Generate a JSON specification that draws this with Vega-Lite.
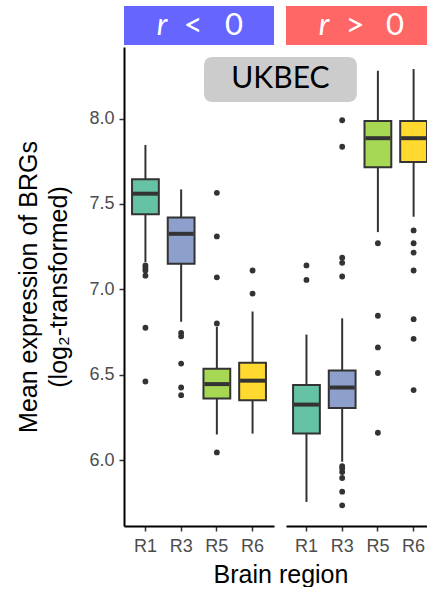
{
  "$schema": "https://vega.github.io/schema/vega-lite/v6.json",
  "autosize": {"type": "pad"},
  "padding": {"left": 16, "top": 6, "right": 0, "bottom": 0},
  "background": "white",
  "config": {
    "view": {"stroke": null},
    "font": "Liberation Sans",
    "axis": {
      "grid": false,
      "domainColor": "#000000",
      "domainWidth": 2,
      "tickColor": "#333333",
      "tickWidth": 1.5,
      "tickSize": 5,
      "labelFont": "Liberation Sans",
      "labelFontSize": 18,
      "labelColor": "#4D4D4D",
      "titleFont": "Liberation Sans",
      "titleFontSize": 25,
      "titleFontWeight": "normal",
      "titleColor": "#000000"
    }
  },
  "datasets": {
    "summary": [
      {"panel": "neg", "region": "R1", "lo": 7.16, "q1": 7.44, "med": 7.56, "q3": 7.645, "hi": 7.845},
      {"panel": "neg", "region": "R3", "lo": 6.81, "q1": 7.15, "med": 7.325, "q3": 7.42, "hi": 7.585},
      {"panel": "neg", "region": "R5", "lo": 6.15, "q1": 6.36, "med": 6.445, "q3": 6.535, "hi": 6.78},
      {"panel": "neg", "region": "R6", "lo": 6.155, "q1": 6.35, "med": 6.465, "q3": 6.57, "hi": 6.87},
      {"panel": "pos", "region": "R1", "lo": 5.755, "q1": 6.155, "med": 6.325, "q3": 6.44, "hi": 6.735},
      {"panel": "pos", "region": "R3", "lo": 5.99, "q1": 6.305, "med": 6.425, "q3": 6.525, "hi": 6.83},
      {"panel": "pos", "region": "R5", "lo": 7.335, "q1": 7.715, "med": 7.885, "q3": 7.985, "hi": 8.28},
      {"panel": "pos", "region": "R6", "lo": 7.425, "q1": 7.745, "med": 7.885, "q3": 7.985, "hi": 8.29}
    ],
    "outliers": [
      {"panel": "neg", "region": "R1", "value": 7.14},
      {"panel": "neg", "region": "R1", "value": 7.125},
      {"panel": "neg", "region": "R1", "value": 7.11},
      {"panel": "neg", "region": "R1", "value": 7.08},
      {"panel": "neg", "region": "R1", "value": 6.775},
      {"panel": "neg", "region": "R1", "value": 6.46},
      {"panel": "neg", "region": "R3", "value": 6.745},
      {"panel": "neg", "region": "R3", "value": 6.725},
      {"panel": "neg", "region": "R3", "value": 6.565},
      {"panel": "neg", "region": "R3", "value": 6.425},
      {"panel": "neg", "region": "R3", "value": 6.38},
      {"panel": "neg", "region": "R5", "value": 7.565},
      {"panel": "neg", "region": "R5", "value": 7.31},
      {"panel": "neg", "region": "R5", "value": 7.07},
      {"panel": "neg", "region": "R5", "value": 6.8},
      {"panel": "neg", "region": "R5", "value": 6.045},
      {"panel": "neg", "region": "R6", "value": 7.11},
      {"panel": "neg", "region": "R6", "value": 6.975},
      {"panel": "pos", "region": "R1", "value": 7.14},
      {"panel": "pos", "region": "R1", "value": 7.055},
      {"panel": "pos", "region": "R3", "value": 7.99},
      {"panel": "pos", "region": "R3", "value": 7.835},
      {"panel": "pos", "region": "R3", "value": 7.185},
      {"panel": "pos", "region": "R3", "value": 7.155},
      {"panel": "pos", "region": "R3", "value": 7.075},
      {"panel": "pos", "region": "R3", "value": 5.965},
      {"panel": "pos", "region": "R3", "value": 5.95},
      {"panel": "pos", "region": "R3", "value": 5.93},
      {"panel": "pos", "region": "R3", "value": 5.895},
      {"panel": "pos", "region": "R3", "value": 5.815},
      {"panel": "pos", "region": "R3", "value": 5.735},
      {"panel": "pos", "region": "R5", "value": 7.27},
      {"panel": "pos", "region": "R5", "value": 6.845},
      {"panel": "pos", "region": "R5", "value": 6.66},
      {"panel": "pos", "region": "R5", "value": 6.51},
      {"panel": "pos", "region": "R5", "value": 6.16},
      {"panel": "pos", "region": "R6", "value": 7.345},
      {"panel": "pos", "region": "R6", "value": 7.27},
      {"panel": "pos", "region": "R6", "value": 7.215},
      {"panel": "pos", "region": "R6", "value": 7.11},
      {"panel": "pos", "region": "R6", "value": 6.825},
      {"panel": "pos", "region": "R6", "value": 6.71},
      {"panel": "pos", "region": "R6", "value": 6.41}
    ],
    "note": [
      {"label": "UKBEC", "x1": 2.64, "x2": 6.92, "y1": 8.097, "y2": 8.361, "xm": 4.78, "ym": 8.229}
    ],
    "strip": [{"one": 1}]
  },
  "columns": 2,
  "spacing": {"row": 2, "column": 12},
  "bounds": "flush",
  "align": "each",
  "concat": [
    {
      "width": 150,
      "height": 39,
      "view": {"fill": "#6666FF", "stroke": null},
      "data": {"name": "strip"},
      "layer": [
        {"mark": {"type": "text", "text": "r", "font": "Lato", "fontSize": 31, "fontStyle": "italic", "color": "white", "align": "center", "dx": -37}},
        {"mark": {"type": "text", "text": "<", "font": "Lato", "fontSize": 33, "color": "white", "align": "center", "dx": -6}},
        {"mark": {"type": "text", "text": "0", "font": "Lato", "fontSize": 31, "color": "white", "align": "center", "dx": 35}}
      ]
    },
    {
      "width": 141,
      "height": 39,
      "view": {"fill": "#FF6666", "stroke": null},
      "data": {"name": "strip"},
      "layer": [
        {"mark": {"type": "text", "text": "r", "font": "Lato", "fontSize": 31, "fontStyle": "italic", "color": "white", "align": "center", "dx": -32.5}},
        {"mark": {"type": "text", "text": ">", "font": "Lato", "fontSize": 33, "color": "white", "align": "center", "dx": -1.5}},
        {"mark": {"type": "text", "text": "0", "font": "Lato", "fontSize": 31, "color": "white", "align": "center", "dx": 38.5}}
      ]
    },
    {
      "width": 150,
      "height": 479,
      "resolve": {"scale": {"x": "independent"}, "axis": {"x": "independent"}},
      "layer": [
        {
          "layer": [
            {
              "data": {"name": "summary"},
              "transform": [{"filter": "datum.panel === 'neg'"}],
              "mark": {"type": "rule", "color": "#333333", "strokeWidth": 2},
              "encoding": {
                "x": {"field": "region", "type": "nominal", "sort": ["R1", "R3", "R5", "R6"],
                      "scale": {"paddingInner": 0.25, "paddingOuter": 0.225},
                      "axis": {"title": "Brain region", "titleX": 156.5, "titlePadding": 7, "labelPadding": 6, "labelAngle": 0}},
                "y": {"field": "lo", "type": "quantitative", "scale": {"domain": [5.614, 8.419], "nice": false, "zero": false},
                      "axis": {"values": [6, 6.5, 7, 7.5, 8], "format": ".1f", "labelPadding": 5, "titlePadding": 17, "titleLineHeight": 30,
                               "title": ["Mean expression of BRGs", "(log₂-transformed)"]}},
                "y2": {"field": "hi"}
              }
            },
            {
              "data": {"name": "summary"},
              "transform": [{"filter": "datum.panel === 'neg'"}],
              "mark": {"type": "bar", "stroke": "#333333", "strokeWidth": 2},
              "encoding": {
                "x": {"field": "region", "type": "nominal", "sort": ["R1", "R3", "R5", "R6"]},
                "y": {"field": "q1", "type": "quantitative"},
                "y2": {"field": "q3"},
                "fill": {"field": "region", "type": "nominal", "legend": null,
                         "scale": {"domain": ["R1", "R3", "R5", "R6"], "range": ["#66C2A5", "#8DA0CB", "#A6D854", "#FFD92F"]}}
              }
            },
            {
              "data": {"name": "summary"},
              "transform": [{"filter": "datum.panel === 'neg'"}],
              "mark": {"type": "tick", "color": "#333333", "thickness": 4, "size": 25, "opacity": 1},
              "encoding": {
                "x": {"field": "region", "type": "nominal", "sort": ["R1", "R3", "R5", "R6"]},
                "y": {"field": "med", "type": "quantitative"}
              }
            },
            {
              "data": {"name": "outliers"},
              "transform": [{"filter": "datum.panel === 'neg'"}],
              "mark": {"type": "point", "filled": true, "color": "#333333", "size": 34, "opacity": 1},
              "encoding": {
                "x": {"field": "region", "type": "nominal", "sort": ["R1", "R3", "R5", "R6"]},
                "y": {"field": "value", "type": "quantitative"}
              }
            }
          ]
        },
        {
          "data": {"name": "note"},
          "layer": [
            {
              "mark": {"type": "rect", "fill": "#CCCCCC", "cornerRadius": 8},
              "encoding": {
                "x": {"field": "x1", "type": "quantitative", "scale": {"domain": [0.4, 4.6], "nice": false, "zero": false}, "axis": null},
                "x2": {"field": "x2"},
                "y": {"field": "y1", "type": "quantitative"},
                "y2": {"field": "y2"}
              }
            },
            {
              "mark": {"type": "text", "font": "Lato", "fontSize": 30, "color": "#000000", "align": "center", "baseline": "middle"},
              "encoding": {
                "x": {"field": "xm", "type": "quantitative"},
                "y": {"field": "ym", "type": "quantitative"},
                "text": {"field": "label"}
              }
            }
          ]
        }
      ]
    },
    {
      "width": 141,
      "height": 479,
      "layer": [
        {
          "data": {"name": "summary"},
          "transform": [{"filter": "datum.panel === 'pos'"}],
          "mark": {"type": "rule", "color": "#333333", "strokeWidth": 2},
          "encoding": {
            "x": {"field": "region", "type": "nominal", "sort": ["R1", "R3", "R5", "R6"],
                  "scale": {"paddingInner": 0.25, "paddingOuter": 0.099, "align": 1},
                  "axis": {"title": null, "labelPadding": 6, "labelAngle": 0}},
            "y": {"field": "lo", "type": "quantitative", "scale": {"domain": [5.614, 8.419], "nice": false, "zero": false}, "axis": null},
            "y2": {"field": "hi"}
          }
        },
        {
          "data": {"name": "summary"},
          "transform": [{"filter": "datum.panel === 'pos'"}],
          "mark": {"type": "bar", "stroke": "#333333", "strokeWidth": 2},
          "encoding": {
            "x": {"field": "region", "type": "nominal", "sort": ["R1", "R3", "R5", "R6"]},
            "y": {"field": "q1", "type": "quantitative"},
            "y2": {"field": "q3"},
            "fill": {"field": "region", "type": "nominal", "legend": null,
                     "scale": {"domain": ["R1", "R3", "R5", "R6"], "range": ["#66C2A5", "#8DA0CB", "#A6D854", "#FFD92F"]}}
          }
        },
        {
          "data": {"name": "summary"},
          "transform": [{"filter": "datum.panel === 'pos'"}],
          "mark": {"type": "tick", "color": "#333333", "thickness": 4, "size": 25, "opacity": 1},
          "encoding": {
            "x": {"field": "region", "type": "nominal", "sort": ["R1", "R3", "R5", "R6"]},
            "y": {"field": "med", "type": "quantitative"}
          }
        },
        {
          "data": {"name": "outliers"},
          "transform": [{"filter": "datum.panel === 'pos'"}],
          "mark": {"type": "point", "filled": true, "color": "#333333", "size": 34, "opacity": 1},
          "encoding": {
            "x": {"field": "region", "type": "nominal", "sort": ["R1", "R3", "R5", "R6"]},
            "y": {"field": "value", "type": "quantitative"}
          }
        }
      ]
    }
  ]
}
